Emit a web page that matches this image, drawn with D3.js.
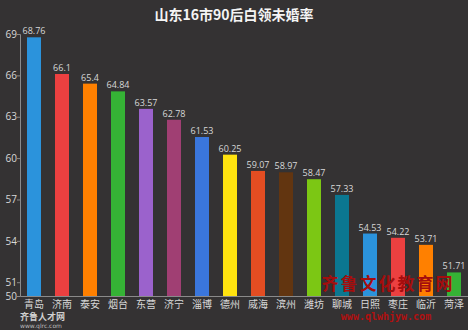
<!DOCTYPE html>
<html><head><meta charset="utf-8">
<script src="https://cdn.jsdelivr.net/npm/d3@7"></script>
<style>
html,body{margin:0;padding:0;background:#343233;}
svg{display:block;}
</style></head>
<body>
<script>
const cities = ["青岛","济南","泰安","烟台","东营","济宁","淄博","德州","威海","滨州","潍坊","聊城","日照","枣庄","临沂","菏泽"];
const values = [68.76,66.1,65.4,64.84,63.57,62.78,61.53,60.25,59.07,58.97,58.47,57.33,54.53,54.22,53.71,51.71];
const valueLabels = ["68.76","66.1","65.4","64.84","63.57","62.78","61.53","60.25","59.07","58.97","58.47","57.33","54.53","54.22","53.71","51.71"];
const colors = ["#2b93dc","#ec4040","#ff8000","#35b335","#9b62cc","#a03f73","#3a76dc","#ffe30f","#e44d22","#623510","#7cc714","#0b7791","#2b93dc","#ec4040","#ff8000","#35b335"];
const yTicks = [50,51,54,57,60,63,66,69];
const title = "山东16市90后白领未婚率";

const W = 468, H = 330;
const svg = d3.select("body").append("svg").attr("width", W).attr("height", H);
svg.append("rect").attr("width", W).attr("height", H).attr("fill", "#343233");

const x = d3.scaleBand().domain(cities).range([20, 468]).paddingInner(0.5).paddingOuter(0.25);
const y = d3.scaleLinear().domain([50, 69]).range([296, 34]);

svg.append("text").attr("x", 234).attr("y", 20).attr("text-anchor", "middle")
  .attr("fill", "#f4f4f4").attr("font-family", "Noto Sans CJK SC").attr("font-weight", "bold")
  .attr("font-size", 14).text(title);

// bars
svg.selectAll("rect.bar").data(values).enter().append("rect")
  .attr("class", "bar")
  .attr("x", (d, i) => x(cities[i]))
  .attr("width", x.bandwidth())
  .attr("y", d => y(d))
  .attr("height", d => y(50) - y(d))
  .attr("fill", (d, i) => colors[i]);

// value labels
svg.selectAll("text.val").data(values).enter().append("text")
  .attr("class", "val")
  .attr("x", (d, i) => x(cities[i]) + x.bandwidth() / 2)
  .attr("y", d => y(d) - 3)
  .attr("text-anchor", "middle")
  .attr("fill", "#d8d8d8").attr("font-family", "Open Sans, DejaVu Sans").attr("font-size", 9)
  .text((d, i) => valueLabels[i]);

// y axis
const yAxis = d3.axisLeft(y).tickValues(yTicks).tickSize(3).tickFormat(d3.format("d"));
const gy = svg.append("g").attr("transform", "translate(20,0)").call(yAxis);
gy.select(".domain").attr("stroke", "#8a8a8a");
gy.selectAll(".tick line").attr("stroke", "#8a8a8a");
gy.selectAll(".tick text").attr("fill", "#d8d8d8").attr("font-family", "Open Sans, DejaVu Sans").attr("font-size", 10).attr("x", -3);

// x axis
const xAxis = d3.axisBottom(x).tickSize(0).tickSizeOuter(0);
const gx = svg.append("g").attr("transform", "translate(0,296)").call(xAxis);
gx.select(".domain").attr("stroke", "#8a8a8a");
gx.selectAll(".tick text").attr("fill", "#d8d8d8").attr("font-family", "Noto Sans CJK SC").attr("font-size", 10).attr("dy", "0.9em");

// watermarks
svg.append("text").attr("x", 20).attr("y", 320).attr("fill", "#cfcfcf")
  .attr("font-family", "Noto Sans CJK SC").attr("font-weight", "bold").attr("font-size", 9).text("齐鲁人才网");
svg.append("text").attr("x", 20).attr("y", 328).attr("fill", "#bbbbbb")
  .attr("font-family", "DejaVu Sans").attr("font-size", 6).text("www.qlrc.com");
svg.append("text").attr("x", 388).attr("y", 290).attr("text-anchor", "middle").attr("fill", "#a50d0d")
  .attr("font-family", "Noto Sans CJK SC").attr("font-weight", "bold").attr("font-size", 17).attr("letter-spacing", 2).text("齐鲁文化教育网");
svg.append("text").attr("x", 386).attr("y", 320).attr("text-anchor", "middle").attr("fill", "#b01010")
  .attr("font-family", "DejaVu Sans Mono").attr("font-weight", "bold").attr("font-size", 10).text("www.qlwhjyw.com");
</script>
</body></html>
